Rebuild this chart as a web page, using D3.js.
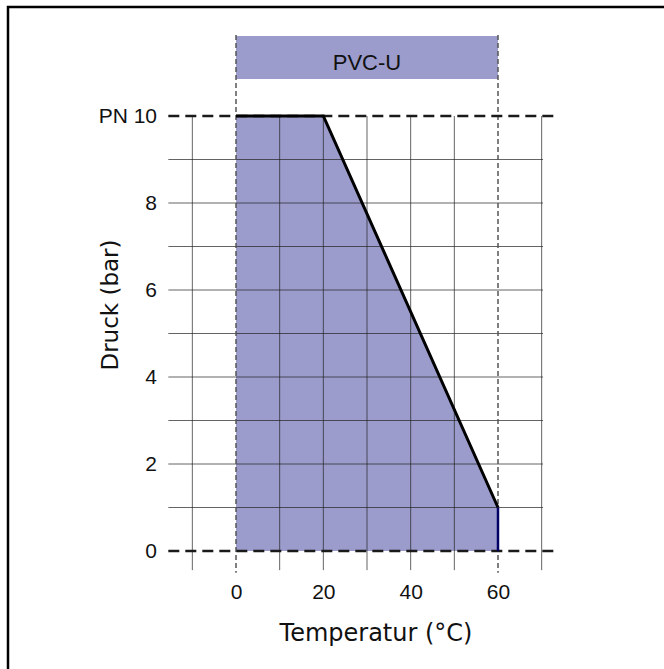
<!DOCTYPE html>
<html>
<head>
<meta charset="utf-8">
<script src="https://cdn.jsdelivr.net/npm/d3@7"></script>
<style>
  body { margin: 0; background: #fff; }
  svg { display: block; }
</style>
</head>
<body>
<div id="chart"></div>
<script>
//Chart data
var material = "PVC-U";
var temps = [0, 20, 60];
var pressure = [10, 10, 1];
var xTicks = [0, 20, 40, 60];
var yTicks = [0, 2, 4, 6, 8, 10];
var yTickLabels = ["0", "2", "4", "6", "8", "PN 10"];
var xGrid = [-10, 10, 20, 30, 40, 50, 70];
var yGrid = [1, 2, 3, 4, 5, 6, 7, 8, 9];
var xTitle = "Temperatur (°C)";
var yTitle = "Druck (bar)";

var W = 664, H = 669;
var fillColor = "#9b9bcc";

var svg = d3.select("#chart").append("svg").attr("width", W).attr("height", H);

// scales
var x = d3.scaleLinear().domain([0, 60]).range([236, 498]);
var y = d3.scaleLinear().domain([0, 10]).range([551, 116]);

// outer frame (only top and left edges visible)
svg.append("rect")
  .attr("x", 8).attr("y", 7)
  .attr("width", 800).attr("height", 800)
  .attr("fill", "none").attr("stroke", "#000").attr("stroke-width", 2.5);

// material band
svg.append("rect")
  .attr("x", x(0)).attr("y", 36)
  .attr("width", x(60) - x(0)).attr("height", 43)
  .attr("fill", fillColor);
svg.append("text")
  .attr("x", (x(0) + x(60)) / 2).attr("y", 70)
  .attr("text-anchor", "middle")
  .style("font-family", "Arial, 'Liberation Sans', sans-serif")
  .style("font-size", "22px")
  .style("fill", "#111")
  .text(material);

// area under curve
var pts = temps.map(function (t, i) { return [t, pressure[i]]; });
var areaPts = [[temps[0], 0]].concat(pts).concat([[temps[temps.length - 1], 0]]);
svg.append("path")
  .datum(areaPts)
  .attr("d", d3.line().x(function (d) { return x(d[0]); }).y(function (d) { return y(d[1]); }))
  .attr("fill", fillColor);

// horizontal grid
svg.selectAll(".hgrid")
  .data(yGrid)
  .enter()
  .append("line")
  .attr("class", "hgrid")
  .attr("x1", x(-15.5)).attr("x2", x(70.3))
  .attr("y1", function (d) { return y(d); })
  .attr("y2", function (d) { return y(d); })
  .attr("stroke", "#222").attr("stroke-opacity", 0.7).attr("stroke-width", 1);

// vertical grid
svg.selectAll(".vgrid")
  .data(xGrid)
  .enter()
  .append("line")
  .attr("class", "vgrid")
  .attr("x1", function (d) { return x(d); })
  .attr("x2", function (d) { return x(d); })
  .attr("y1", y(10)).attr("y2", y(-0.44))
  .attr("stroke", "#222").attr("stroke-opacity", 0.7).attr("stroke-width", 1);

// dashed verticals at the limits
svg.selectAll(".vdash")
  .data([0, 60])
  .enter()
  .append("line")
  .attr("x1", function (d) { return x(d); })
  .attr("x2", function (d) { return x(d); })
  .attr("y1", 35).attr("y2", y(-0.5))
  .attr("stroke", "#555").attr("stroke-width", 1.5)
  .attr("stroke-dasharray", "5,3");

// dashed horizontals at 0 and PN
svg.selectAll(".hdash")
  .data([0, 10])
  .enter()
  .append("line")
  .attr("x1", x(-15.5)).attr("x2", x(73.5))
  .attr("y1", function (d) { return y(d); })
  .attr("y2", function (d) { return y(d); })
  .attr("stroke", "#1a1a1a").attr("stroke-width", 2.5)
  .attr("stroke-dasharray", "11,6");

// curve
svg.append("path")
  .datum(pts)
  .attr("d", d3.line().x(function (d) { return x(d[0]); }).y(function (d) { return y(d[1]); }))
  .attr("fill", "none").attr("stroke", "#000").attr("stroke-width", 3);

// drop to zero at the end
var last = pts[pts.length - 1];
svg.append("line")
  .attr("x1", x(last[0])).attr("x2", x(last[0]))
  .attr("y1", y(last[1])).attr("y2", y(0))
  .attr("stroke", "#000066").attr("stroke-width", 2.5);

// y axis labels
svg.append("g")
  .attr("transform", "translate(157,0)")
  .call(d3.axisLeft(y).tickValues(yTicks).tickSize(0).tickPadding(0)
    .tickFormat(function (d, i) { return yTickLabels[i]; }))
  .call(function (g) { g.select(".domain").remove(); })
  .selectAll("text")
  .style("font-family", "Arial, 'Liberation Sans', sans-serif")
  .style("font-size", "21px")
  .attr("fill", "#111");

// x axis labels
svg.append("g")
  .attr("transform", "translate(0,584)")
  .call(d3.axisBottom(x).tickValues(xTicks).tickSize(0).tickPadding(0))
  .call(function (g) { g.select(".domain").remove(); })
  .selectAll("text")
  .style("font-family", "Arial, 'Liberation Sans', sans-serif")
  .style("font-size", "21px")
  .attr("fill", "#111");

// axis titles
svg.append("text")
  .attr("x", 376).attr("y", 641)
  .attr("text-anchor", "middle")
  .style("font-family", "Verdana, 'DejaVu Sans', sans-serif")
  .style("font-size", "24px")
  .style("fill", "#111")
  .text(xTitle);

svg.append("text")
  .attr("transform", "translate(118,305) rotate(-90)")
  .attr("text-anchor", "middle")
  .style("font-family", "Verdana, 'DejaVu Sans', sans-serif")
  .style("font-size", "23px")
  .style("fill", "#111")
  .text(yTitle);
</script>
</body>
</html>
